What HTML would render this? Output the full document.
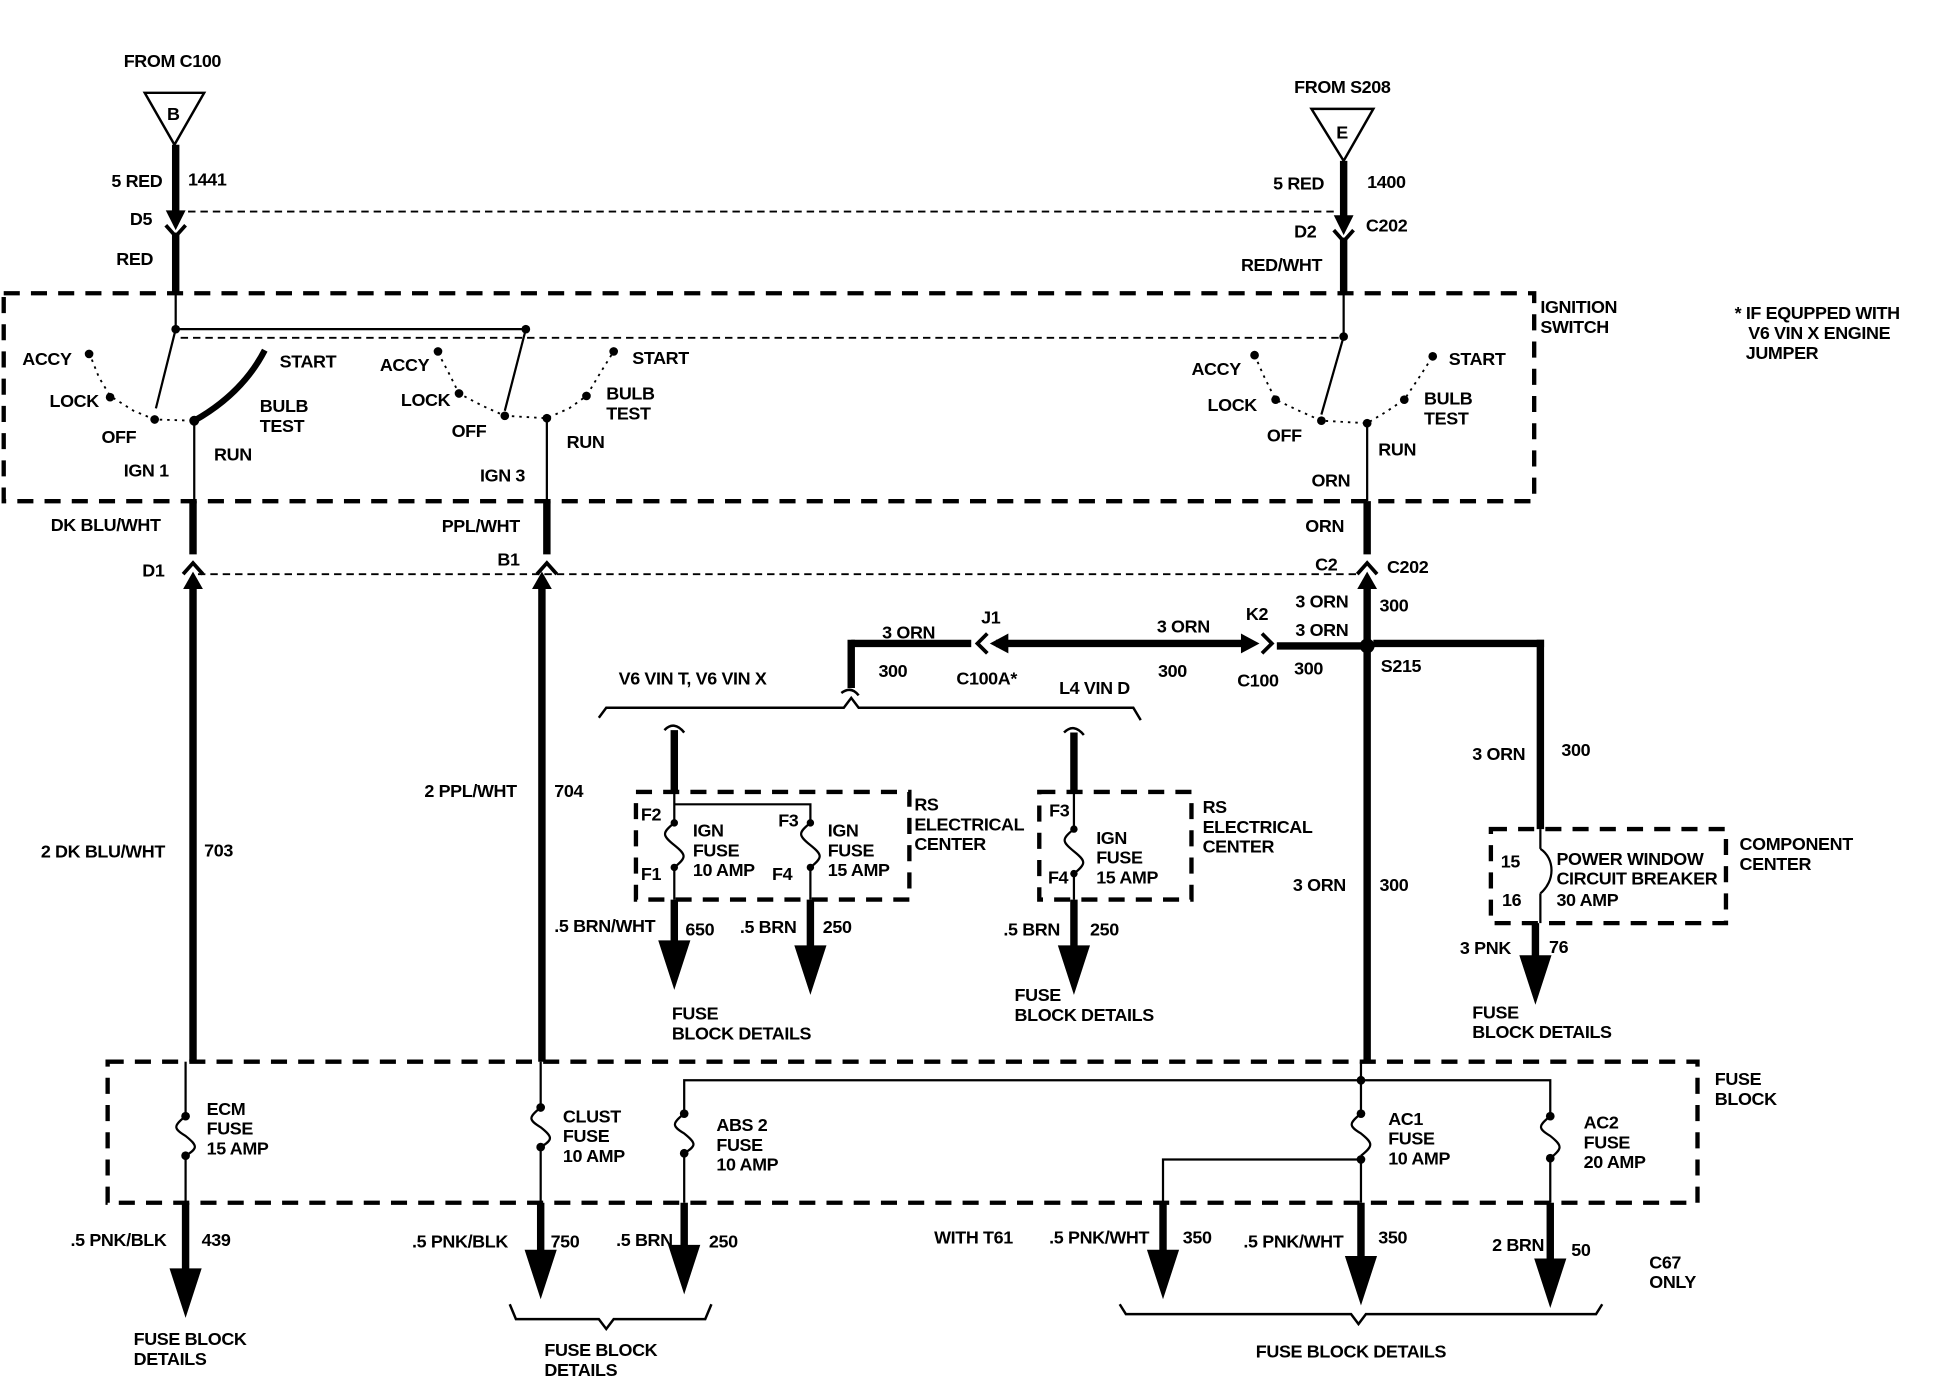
<!DOCTYPE html>
<html><head><meta charset="utf-8"><style>
html,body{margin:0;padding:0;background:#fff;}
svg{display:block;}
text{font-family:"Liberation Sans",sans-serif;font-weight:bold;font-size:14.5px;fill:#000;letter-spacing:-0.3px;}
</style></head><body>
<svg width="1940" height="1376" viewBox="0 0 1568 1112" preserveAspectRatio="none" xmlns="http://www.w3.org/2000/svg">
<defs>
<g id="arr"><polygon points="-13,-40 13,-40 0,0" fill="#000"/></g>
</defs>
<g stroke="#000" fill="none">
<!-- triangles -->
<polygon points="117,75 165,75 141,117" stroke-width="2"/>
<polygon points="1060,88 1110,88 1086,130" stroke-width="2"/>
<!-- thick top wires -->
<line x1="142" y1="117" x2="142" y2="172" stroke-width="6"/>
<line x1="142" y1="188" x2="142" y2="237" stroke-width="6"/>
<line x1="1086" y1="130" x2="1086" y2="176" stroke-width="6"/>
<line x1="1086" y1="192" x2="1086" y2="237" stroke-width="6"/>
<polyline points="134,182 142,191 150,182" stroke-width="3"/>
<polyline points="1078,186 1086,195 1094,186" stroke-width="3"/>
<!-- dashed connector lines -->
<line x1="152" y1="171" x2="1080" y2="171" stroke-width="1.5" stroke-dasharray="6,4"/>
<line x1="160" y1="464" x2="1098" y2="464" stroke-width="1.5" stroke-dasharray="6,4"/>
<line x1="146" y1="273" x2="1086" y2="273" stroke-width="1.5" stroke-dasharray="6,4"/>
<!-- ignition box -->
<rect x="3" y="237" width="1237" height="168" stroke-width="3.5" stroke-dasharray="13,9"/>
<!-- switch 1 -->
<line x1="142" y1="237" x2="142" y2="266" stroke-width="1.8"/>
<line x1="142" y1="266" x2="425" y2="266" stroke-width="1.8"/>
<line x1="142" y1="266" x2="126" y2="330" stroke-width="1.8"/>
<path d="M157,340 Q196,318 214,283" stroke-width="5"/>
<polyline points="72,285 80,305 89,320 108,332 125,339 157,340" stroke-width="1.5" stroke-dasharray="2,4"/>
<line x1="157" y1="340" x2="157" y2="405" stroke-width="1.8"/>
<!-- switch 2 -->
<line x1="425" y1="266" x2="408" y2="332" stroke-width="1.8"/>
<polyline points="354,285 362,300 371,318 390,328 408,336 442,338 460,330 474,320 486,300 496,284" stroke-width="1.5" stroke-dasharray="2,4"/>
<line x1="442" y1="338" x2="442" y2="405" stroke-width="1.8"/>
<!-- switch 3 -->
<line x1="1086" y1="237" x2="1086" y2="272" stroke-width="1.8"/>
<line x1="1086" y1="272" x2="1068" y2="335" stroke-width="1.8"/>
<polyline points="1014,287 1022,305 1031,323 1050,332 1068,340 1105,342 1120,333 1135,323 1147,305 1158,288" stroke-width="1.5" stroke-dasharray="2,4"/>
<line x1="1105" y1="342" x2="1105" y2="405" stroke-width="1.8"/>
<!-- below ignition -->
<line x1="156" y1="405" x2="156" y2="448" stroke-width="6"/>
<line x1="442" y1="405" x2="442" y2="448" stroke-width="6"/>
<line x1="1105" y1="405" x2="1105" y2="448" stroke-width="6"/>
<polyline points="148,464 156,455 164,464" stroke-width="3"/>
<polyline points="434,464 442,455 450,464" stroke-width="3"/>
<polyline points="1097,464 1105,455 1113,464" stroke-width="3"/>
<line x1="156" y1="470" x2="156" y2="858" stroke-width="6"/>
<line x1="438" y1="470" x2="438" y2="858" stroke-width="6"/>
<line x1="1105" y1="470" x2="1105" y2="858" stroke-width="6"/>
<!-- S215 horizontal -->
<line x1="688" y1="520" x2="785" y2="520" stroke-width="6"/>
<line x1="688" y1="517" x2="688" y2="556" stroke-width="6"/>
<polyline points="798,512 790,520 798,528" stroke-width="3"/>
<line x1="805" y1="520" x2="1010" y2="520" stroke-width="6"/>
<polyline points="1020,512 1028,520 1020,528" stroke-width="3"/>
<line x1="1032" y1="522" x2="1100" y2="522" stroke-width="6"/>
<line x1="1110" y1="520" x2="1248" y2="520" stroke-width="6"/>
<line x1="1245" y1="517" x2="1245" y2="670" stroke-width="6"/>
<!-- brackets -->
<polyline points="484,580 490,572 682,572 688,564 694,572 916,572 922,582" stroke-width="2"/>
<path d="M680,560 q8,-6 14,2" stroke-width="2"/>
<polyline points="412,1054 417,1066 484,1066 490,1074 496,1066 570,1066 575,1054" stroke-width="2"/>
<polyline points="905,1054 910,1062 1092,1062 1098,1070 1104,1062 1290,1062 1295,1054" stroke-width="2"/>
<!-- RS center 1 -->
<path d="M537,590 q8,-8 16,2" stroke-width="2"/>
<line x1="545" y1="590" x2="545" y2="640" stroke-width="6"/>
<rect x="514" y="640" width="221" height="87" stroke-width="3.5" stroke-dasharray="13,9"/>
<line x1="545" y1="640" x2="545" y2="665" stroke-width="1.8"/>
<polyline points="545,650 655,650 655,665" stroke-width="1.8"/>
<path d="M545,665 c-10,8 -10,10 0,18 c10,8 10,10 0,18" stroke-width="1.8"/>
<path d="M655,665 c-10,8 -10,10 0,18 c10,8 10,10 0,18" stroke-width="1.8"/>
<line x1="545" y1="701" x2="545" y2="727" stroke-width="1.8"/>
<line x1="655" y1="701" x2="655" y2="727" stroke-width="1.8"/>
<line x1="545" y1="727" x2="545" y2="765" stroke-width="6"/>
<line x1="655" y1="727" x2="655" y2="765" stroke-width="6"/>
<!-- RS center 2 -->
<path d="M860,592 q8,-8 16,2" stroke-width="2"/>
<line x1="868" y1="592" x2="868" y2="640" stroke-width="6"/>
<rect x="840" y="640" width="123" height="87" stroke-width="3.5" stroke-dasharray="13,9"/>
<line x1="868" y1="640" x2="868" y2="670" stroke-width="1.8"/>
<path d="M868,670 c-10,8 -10,10 0,18 c10,8 10,10 0,18" stroke-width="1.8"/>
<line x1="868" y1="706" x2="868" y2="727" stroke-width="1.8"/>
<line x1="868" y1="727" x2="868" y2="765" stroke-width="6"/>
<!-- component center -->
<rect x="1205" y="670" width="190" height="76" stroke-width="3.5" stroke-dasharray="13,9"/>
<line x1="1245" y1="670" x2="1245" y2="686" stroke-width="1.8"/>
<path d="M1245,686 c12,8 12,26 0,36" stroke-width="1.8"/>
<line x1="1245" y1="722" x2="1245" y2="746" stroke-width="1.8"/>
<line x1="1241" y1="746" x2="1241" y2="775" stroke-width="6"/>
<!-- fuse block -->
<rect x="87" y="858" width="1285" height="114" stroke-width="3.5" stroke-dasharray="13,9"/>
<line x1="150" y1="858" x2="150" y2="902" stroke-width="1.8"/>
<path d="M150,902 c-10,8 -10,10 0,16 c10,8 10,10 0,16" stroke-width="1.8"/>
<line x1="150" y1="934" x2="150" y2="972" stroke-width="1.8"/>
<line x1="437" y1="858" x2="437" y2="895" stroke-width="1.8"/>
<path d="M437,895 c-10,8 -10,10 0,16 c10,8 10,10 0,16" stroke-width="1.8"/>
<line x1="437" y1="927" x2="437" y2="972" stroke-width="1.8"/>
<polyline points="1100,873 553,873 553,900" stroke-width="1.8"/>
<path d="M553,900 c-10,8 -10,10 0,16 c10,8 10,10 0,16" stroke-width="1.8"/>
<line x1="553" y1="932" x2="553" y2="972" stroke-width="1.8"/>
<line x1="1100" y1="858" x2="1100" y2="900" stroke-width="1.8"/>
<path d="M1100,900 c-10,8 -10,10 0,16 c10,8 10,10 0,18" stroke-width="1.8"/>
<line x1="1100" y1="934" x2="1100" y2="972" stroke-width="1.8"/>
<polyline points="1100,937 940,937 940,972" stroke-width="1.8"/>
<polyline points="1100,873 1253,873 1253,902" stroke-width="1.8"/>
<path d="M1253,902 c-10,8 -10,10 0,16 c10,8 10,10 0,18" stroke-width="1.8"/>
<line x1="1253" y1="936" x2="1253" y2="972" stroke-width="1.8"/>
<!-- bottom thick -->
<line x1="150" y1="972" x2="150" y2="1030" stroke-width="6"/>
<line x1="437" y1="972" x2="437" y2="1015" stroke-width="6"/>
<line x1="553" y1="972" x2="553" y2="1010" stroke-width="6"/>
<line x1="940" y1="972" x2="940" y2="1015" stroke-width="6"/>
<line x1="1100" y1="972" x2="1100" y2="1020" stroke-width="6"/>
<line x1="1253" y1="972" x2="1253" y2="1022" stroke-width="6"/>
</g>
<!-- arrowheads -->
<polygon points="134,170 150,170 142,186" fill="#000"/>
<polygon points="1078,174 1094,174 1086,190" fill="#000"/>
<polygon points="148,476 164,476 156,462" fill="#000"/>
<polygon points="430,476 446,476 438,462" fill="#000"/>
<polygon points="1097,476 1113,476 1105,462" fill="#000"/>
<polygon points="800,520 815,512 815,528" fill="#000"/>
<polygon points="1018,520 1003,512 1003,528" fill="#000"/>
<use href="#arr" x="545" y="800"/>
<use href="#arr" x="655" y="804"/>
<use href="#arr" x="868" y="804"/>
<use href="#arr" x="1241" y="812"/>
<use href="#arr" x="150" y="1065"/>
<use href="#arr" x="437" y="1050"/>
<use href="#arr" x="553" y="1046"/>
<use href="#arr" x="940" y="1050"/>
<use href="#arr" x="1100" y="1055"/>
<use href="#arr" x="1253" y="1057"/>
<!-- dots -->
<g fill="#000">
<circle cx="142" cy="266" r="3.5"/><circle cx="425" cy="266" r="3.5"/><circle cx="1086" cy="272" r="3.5"/>
<circle cx="72" cy="286" r="3.5"/><circle cx="89" cy="321" r="3.5"/><circle cx="125" cy="339" r="3.5"/><circle cx="157" cy="340" r="4"/>
<circle cx="354" cy="284" r="3.5"/><circle cx="371" cy="318" r="3.5"/><circle cx="408" cy="336" r="3.5"/><circle cx="442" cy="338" r="3.5"/><circle cx="474" cy="320" r="3.5"/><circle cx="496" cy="284" r="3.5"/>
<circle cx="1014" cy="287" r="3.5"/><circle cx="1031" cy="323" r="3.5"/><circle cx="1068" cy="340" r="3.5"/><circle cx="1105" cy="342" r="3.5"/><circle cx="1135" cy="323" r="3.5"/><circle cx="1158" cy="288" r="3.5"/>
<circle cx="1105" cy="522" r="6"/>
<circle cx="545" cy="665" r="3"/><circle cx="545" cy="701" r="3"/><circle cx="655" cy="665" r="3"/><circle cx="655" cy="701" r="3"/>
<circle cx="868" cy="670" r="3"/><circle cx="868" cy="706" r="3"/>
<circle cx="150" cy="902" r="3.5"/><circle cx="150" cy="934" r="3.5"/>
<circle cx="437" cy="895" r="3.5"/><circle cx="437" cy="927" r="3.5"/>
<circle cx="553" cy="900" r="3.5"/><circle cx="553" cy="932" r="3.5"/>
<circle cx="1100" cy="873" r="3.5"/><circle cx="1100" cy="900" r="3.5"/><circle cx="1100" cy="937" r="3.5"/>
<circle cx="1253" cy="902" r="3.5"/><circle cx="1253" cy="936" r="3.5"/>
</g>
<!-- labels -->
<g>
<text x="100" y="54">FROM C100</text>
<text x="135" y="97" font-size="12">B</text>
<text x="1046" y="75">FROM S208</text>
<text x="1080" y="112" font-size="12">E</text>
<text x="90" y="151">5 RED</text><text x="152" y="150">1441</text>
<text x="105" y="182">D5</text><text x="94" y="214">RED</text>
<text x="1029" y="153">5 RED</text><text x="1105" y="152">1400</text>
<text x="1046" y="192">D2</text><text x="1104" y="187">C202</text>
<text x="1003" y="219">RED/WHT</text>
<text x="1245" y="253">IGNITION</text><text x="1245" y="269">SWITCH</text>
<text x="1402" y="258">* IF EQUPPED WITH</text><text x="1413" y="274">V6 VIN X ENGINE</text><text x="1411" y="290">JUMPER</text>
<text x="18" y="295">ACCY</text><text x="40" y="329">LOCK</text><text x="82" y="358">OFF</text>
<text x="173" y="372">RUN</text><text x="210" y="333">BULB</text><text x="210" y="349">TEST</text>
<text x="226" y="297">START</text><text x="100" y="385">IGN 1</text>
<text x="307" y="300">ACCY</text><text x="324" y="328">LOCK</text><text x="365" y="353">OFF</text>
<text x="458" y="362">RUN</text><text x="490" y="323">BULB</text><text x="490" y="339">TEST</text>
<text x="511" y="294">START</text><text x="388" y="389">IGN 3</text>
<text x="963" y="303">ACCY</text><text x="976" y="332">LOCK</text><text x="1024" y="357">OFF</text>
<text x="1114" y="368">RUN</text><text x="1151" y="327">BULB</text><text x="1151" y="343">TEST</text>
<text x="1171" y="295">START</text><text x="1060" y="393">ORN</text>
<text x="41" y="429">DK BLU/WHT</text><text x="115" y="466">D1</text>
<text x="357" y="430">PPL/WHT</text><text x="402" y="457">B1</text>
<text x="1055" y="430">ORN</text><text x="1063" y="461">C2</text><text x="1121" y="463">C202</text>
<text x="713" y="516">3 ORN</text><text x="793" y="504">J1</text>
<text x="710" y="547">300</text><text x="773" y="553">C100A*</text>
<text x="935" y="511">3 ORN</text><text x="1007" y="501">K2</text>
<text x="936" y="547">300</text><text x="1000" y="555">C100</text>
<text x="1047" y="491">3 ORN</text><text x="1115" y="494">300</text>
<text x="1047" y="514">3 ORN</text><text x="1046" y="545">300</text><text x="1116" y="543">S215</text>
<text x="500" y="553">V6 VIN T, V6 VIN X</text><text x="856" y="561">L4 VIN D</text>
<text x="33" y="693">2 DK BLU/WHT</text><text x="165" y="692">703</text>
<text x="343" y="644">2 PPL/WHT</text><text x="448" y="644">704</text>
<text x="518" y="663" font-size="13">F2</text><text x="518" y="711" font-size="13">F1</text>
<text x="560" y="676">IGN</text><text x="560" y="692">FUSE</text><text x="560" y="708">10 AMP</text>
<text x="629" y="668" font-size="13">F3</text><text x="624" y="711" font-size="13">F4</text>
<text x="669" y="676">IGN</text><text x="669" y="692">FUSE</text><text x="669" y="708">15 AMP</text>
<text x="739" y="655">RS</text><text x="739" y="671">ELECTRICAL</text><text x="739" y="687">CENTER</text>
<text x="448" y="753">.5 BRN/WHT</text><text x="554" y="756">650</text>
<text x="598" y="754">.5 BRN</text><text x="665" y="754">250</text>
<text x="543" y="824">FUSE</text><text x="543" y="840">BLOCK DETAILS</text>
<text x="848" y="660" font-size="13">F3</text><text x="847" y="714" font-size="13">F4</text>
<text x="886" y="682">IGN</text><text x="886" y="698">FUSE</text><text x="886" y="714">15 AMP</text>
<text x="972" y="657">RS</text><text x="972" y="673">ELECTRICAL</text><text x="972" y="689">CENTER</text>
<text x="811" y="756">.5 BRN</text><text x="881" y="756">250</text>
<text x="820" y="809">FUSE</text><text x="820" y="825">BLOCK DETAILS</text>
<text x="1045" y="720">3 ORN</text><text x="1115" y="720">300</text>
<text x="1190" y="614">3 ORN</text><text x="1262" y="611">300</text>
<text x="1213" y="701" font-size="13">15</text><text x="1214" y="732" font-size="13">16</text>
<text x="1258" y="699">POWER WINDOW</text><text x="1258" y="715">CIRCUIT BREAKER</text><text x="1258" y="732">30 AMP</text>
<text x="1406" y="687">COMPONENT</text><text x="1406" y="703">CENTER</text>
<text x="1180" y="771">3 PNK</text><text x="1252" y="770">76</text>
<text x="1190" y="823">FUSE</text><text x="1190" y="839">BLOCK DETAILS</text>
<text x="1386" y="877">FUSE</text><text x="1386" y="893">BLOCK</text>
<text x="167" y="901">ECM</text><text x="167" y="917">FUSE</text><text x="167" y="933">15 AMP</text>
<text x="455" y="907">CLUST</text><text x="455" y="923">FUSE</text><text x="455" y="939">10 AMP</text>
<text x="579" y="914">ABS 2</text><text x="579" y="930">FUSE</text><text x="579" y="946">10 AMP</text>
<text x="1122" y="909">AC1</text><text x="1122" y="925">FUSE</text><text x="1122" y="941">10 AMP</text>
<text x="1280" y="912">AC2</text><text x="1280" y="928">FUSE</text><text x="1280" y="944">20 AMP</text>
<text x="57" y="1007">.5 PNK/BLK</text><text x="163" y="1007">439</text>
<text x="108" y="1087">FUSE BLOCK</text><text x="108" y="1103">DETAILS</text>
<text x="333" y="1008">.5 PNK/BLK</text><text x="445" y="1008">750</text>
<text x="498" y="1007">.5 BRN</text><text x="573" y="1008">250</text>
<text x="440" y="1096">FUSE BLOCK</text><text x="440" y="1112">DETAILS</text>
<text x="755" y="1005">WITH T61</text><text x="848" y="1005">.5 PNK/WHT</text><text x="956" y="1005">350</text>
<text x="1005" y="1008">.5 PNK/WHT</text><text x="1114" y="1005">350</text>
<text x="1206" y="1011">2 BRN</text><text x="1270" y="1015">50</text>
<text x="1333" y="1025">C67</text><text x="1333" y="1041">ONLY</text>
<text x="1015" y="1097">FUSE BLOCK DETAILS</text>
</g>
</svg>
</body></html>
